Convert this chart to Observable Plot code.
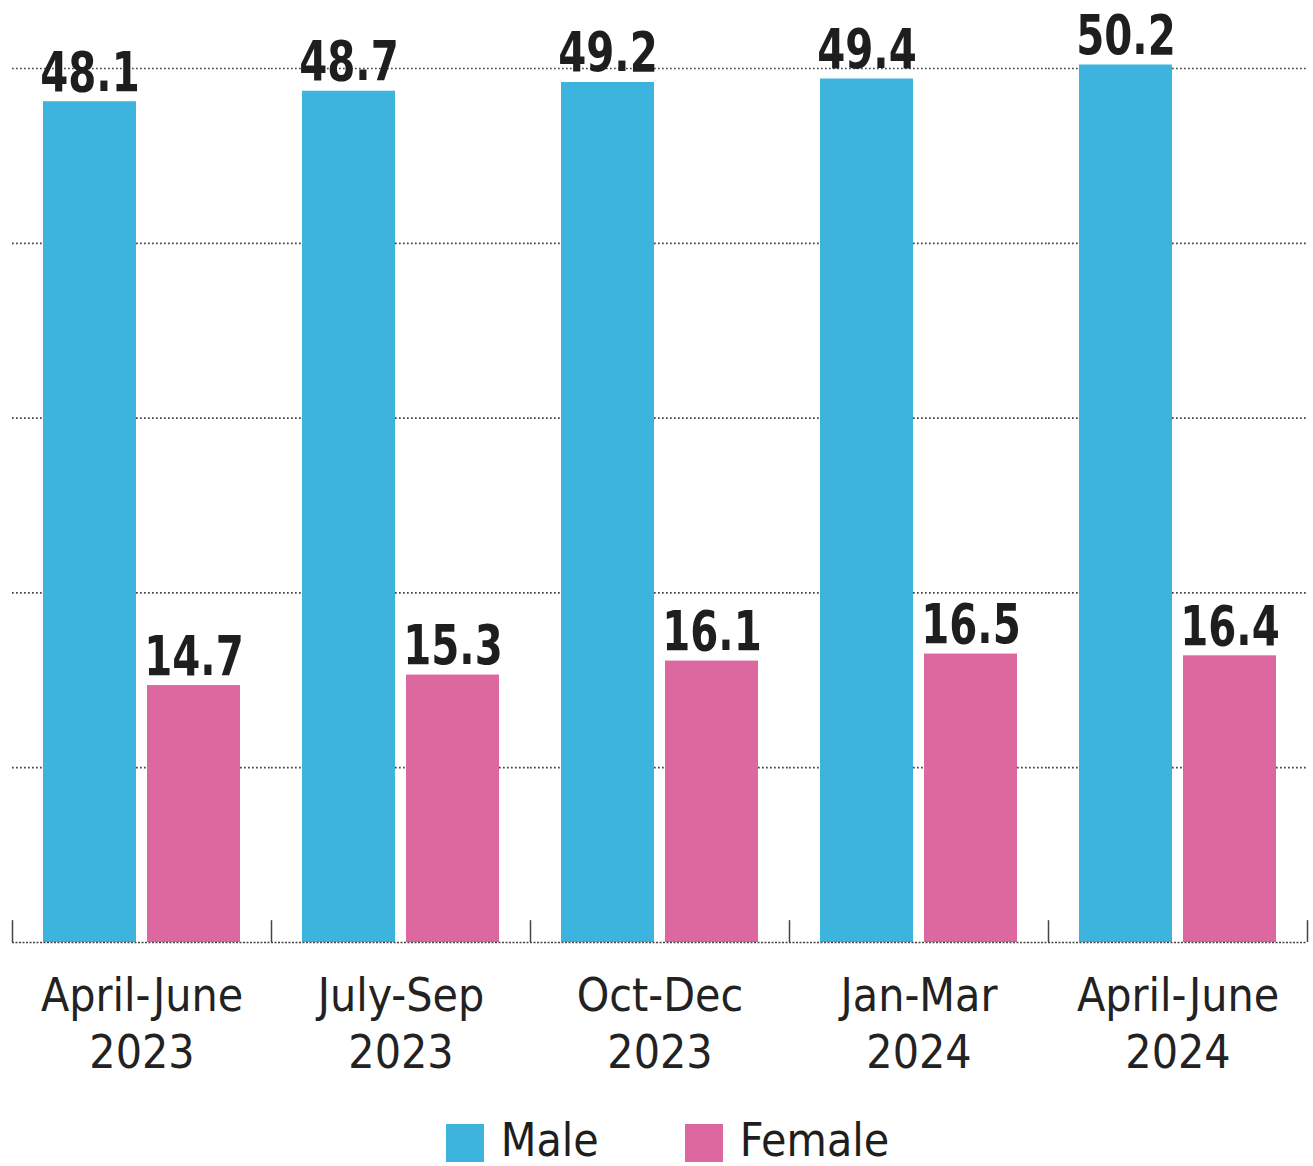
<!DOCTYPE html>
<html>
<head>
<meta charset="utf-8">
<script src="https://cdn.jsdelivr.net/npm/d3@7"></script>
<script src="https://cdn.jsdelivr.net/npm/@observablehq/plot@0.6"></script>
<style>
  html, body { margin: 0; padding: 0; background: #fff; }
  #chart svg { display: block; }
  #legend {
    height: 66px; display: flex; justify-content: center; align-items: flex-start;
    font-family: "DejaVu Sans Condensed", "DejaVu Sans", sans-serif; font-stretch: condensed;
    font-size: 46px; color: #1e1e1e; padding-left: 22px; box-sizing: border-box;
  }
  .item { display: flex; align-items: center; margin: 17px 43px 0; height: 46px; }
  .sw { width: 38px; height: 38px; margin-right: 17px; margin-top: 6px; }
</style>
</head>
<body>
<div id="chart"></div>
<div id="legend"></div>
<script>
const periods = ["April-June 2023", "July-Sep 2023", "Oct-Dec 2023", "Jan-Mar 2024", "April-June 2024"];
const male = [48.1, 48.7, 49.2, 49.4, 50.2];
const female = [14.7, 15.3, 16.1, 16.5, 16.4];
const series = ["Male", "Female"];
const colors = ["#3db4dd", "#dd679f"];
const gridValues = [10, 20, 30, 40, 50];

const data = periods.flatMap((p, i) => [
  {period: p, gender: "Male", value: male[i]},
  {period: p, gender: "Female", value: female[i]}
]);

const condensed = "'DejaVu Sans Condensed', 'DejaVu Sans', sans-serif";

const chart = Plot.plot({
  width: 1313,
  height: 1100,
  marginLeft: 12,
  marginRight: 6,
  marginTop: 68,
  marginBottom: 158,
  style: {fontFamily: condensed, background: "#fff"},
  fx: {domain: periods, padding: 0, axis: null},
  x: {domain: series, paddingInner: 0.106, paddingOuter: 0.298, axis: null},
  y: {domain: [0, 50], axis: null},
  color: {domain: series, range: colors},
  marks: [
    Plot.ruleY(gridValues, {stroke: "#444", strokeWidth: 1.7, strokeDasharray: "1.7,2.3"}),
    Plot.barY(data, {fx: "period", x: "gender", y: "value", fill: "gender"}),
    Plot.ruleY([0], {stroke: "#444", strokeWidth: 1.5, strokeDasharray: "2,1.5"}),
    Plot.ruleX(periods, {fx: d => d, x: null, y1: 0, y2: 1.25, dx: -129.5, stroke: "#444", strokeWidth: 1.5}),
    Plot.ruleX([periods[periods.length - 1]], {fx: d => d, x: null, y1: 0, y2: 1.25, dx: 129.5, stroke: "#444", strokeWidth: 1.5}),
    Plot.text(data, {
      fx: "period", x: "gender", y: "value", text: d => d.value.toFixed(1),
      lineAnchor: "bottom", dy: -11, fontSize: 56, fontWeight: "bold",
      fill: "#1e1e1e"
    }),
    Plot.text(periods, {
      fx: d => d, frameAnchor: "bottom", text: d => d.replace(" ", "\n"),
      lineAnchor: "top", dy: 28, fontSize: 46, lineHeight: 1.24, fill: "#222"
    })
  ]
});
document.getElementById("chart").appendChild(chart);

// Horizontally condense the bold value labels around their anchor point
chart.querySelectorAll('g[font-weight="bold"] text').forEach(t => {
  const tr = t.getAttribute("transform");
  if (tr) {
    t.setAttribute("transform", tr + " scale(0.8 1)");
  } else {
    const x = +t.getAttribute("x") || 0;
    const y = +t.getAttribute("y") || 0;
    t.setAttribute("transform", `translate(${x} ${y}) scale(0.8 1) translate(${-x} ${-y})`);
  }
});

const legend = document.getElementById("legend");
series.forEach((s, i) => {
  const item = document.createElement("div");
  item.className = "item";
  const sw = document.createElement("div");
  sw.className = "sw";
  sw.style.background = colors[i];
  const label = document.createElement("span");
  label.textContent = s;
  item.appendChild(sw);
  item.appendChild(label);
  legend.appendChild(item);
});
</script>
</body>
</html>
